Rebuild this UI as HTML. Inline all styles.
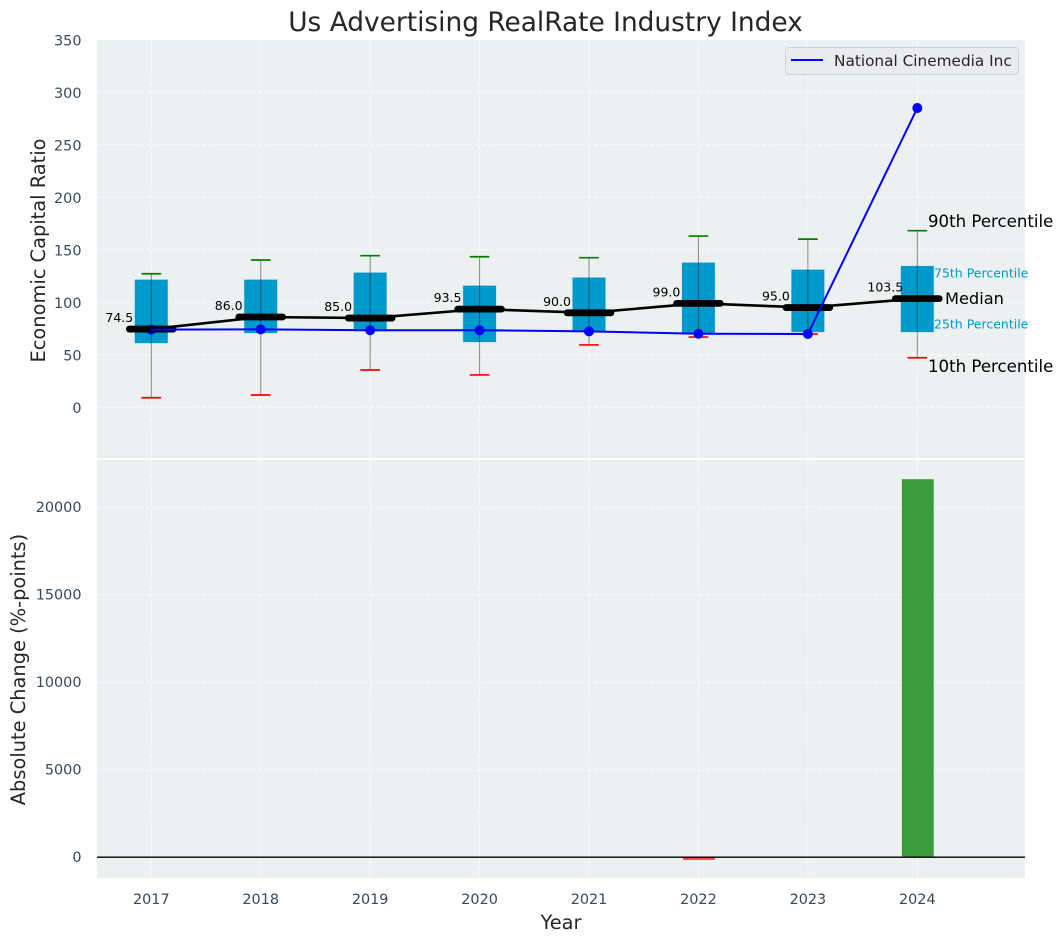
<!DOCTYPE html>
<html lang="en">
<head>
<meta charset="utf-8">
<title>Us Advertising RealRate Industry Index</title>
<style>
html,body{margin:0;padding:0;background:#fff;}
#chart{display:block;position:absolute;left:0;top:0;}
text{font-family:"DejaVu Sans","Liberation Sans",sans-serif;}
</style>
</head>
<body>
<svg id="chart" width="1063" height="942" viewBox="0 0 1063 942" xmlns="http://www.w3.org/2000/svg">
  <rect x="97" y="40" width="928" height="418" fill="#ecf0f1"/>
  <rect x="97" y="460" width="928" height="418" fill="#ecf0f1"/>
  <g id="grid"></g>
  <g id="boxes"></g>
  <g id="bars"></g>
  <g id="lines"></g>
  <g id="ticks" font-size="14.4" fill="#34495e"></g>
  <g id="values" font-size="12.5" fill="#000" text-anchor="middle"></g>

  <text x="545.5" y="31" font-size="26.4" fill="#262626" text-anchor="middle">Us Advertising RealRate Industry Index</text>
  <text transform="translate(45,250.5) rotate(-90)" font-size="19.4" fill="#262626" text-anchor="middle">Economic Capital Ratio</text>
  <text transform="translate(25,669.5) rotate(-90)" font-size="19.4" fill="#262626" text-anchor="middle">Absolute Change (%-points)</text>
  <text x="561" y="929" font-size="19.4" fill="#262626" text-anchor="middle">Year</text>

  <text x="928" y="227" font-size="16.6" fill="#000">90th Percentile</text>
  <text x="934" y="277.5" font-size="12.5" fill="#0099cc">75th Percentile</text>
  <text x="945" y="304" font-size="16.2" fill="#000">Median</text>
  <text x="934" y="328.5" font-size="12.5" fill="#0099cc">25th Percentile</text>
  <text x="928" y="372" font-size="16.6" fill="#000">10th Percentile</text>

  <g>
    <rect x="785.5" y="47.5" width="233" height="27" rx="3" fill="#e9ebef" stroke="#cfd2d4" stroke-width="1"/>
    <line x1="791" y1="60" x2="823" y2="60" stroke="#0000ff" stroke-width="2"/>
    <text x="834" y="66" font-size="15.3" fill="#262626">National Cinemedia Inc</text>
  </g>
</svg>
<script>
const years = [2017, 2018, 2019, 2020, 2021, 2022, 2023, 2024];
const p10 = [9.1, 11.7, 35.5, 30.8, 59.4, 66.9, 69.8, 47.2];
const p25 = [61.2, 70.7, 72.6, 62.2, 72.4, 70.4, 71.7, 71.7];
const medians = [74.5, 86, 85, 93.5, 90, 99, 95, 103.5];
const p75 = [121.5, 121.5, 128.2, 115.8, 123.5, 137.7, 131, 134.5];
const p90 = [127.2, 140.3, 144.4, 143.4, 142.5, 163.1, 160.2, 168.2];
const company = [74, 74.2, 73.4, 73.4, 72.3, 70.1, 69.8, 285];
const changes = [0, 0, -10, 0, -15, -150, -10, 21600];
const topTicks = [0, 50, 100, 150, 200, 250, 300, 350];
const bottomTicks = [0, 5000, 10000, 15000, 20000];

const NS = 'http://www.w3.org/2000/svg';
const xScale = v => 151.3 + (v - 2017) * 109.43;
const yTop = v => 407.3 - v * 1.05;
const yBottom = v => 857.2 - v * 0.0175;
const YEAR_BOX = 0.15, YEAR_MED = 0.2, YEAR_CAP = 0.09, YEAR_LABEL = 0.2924;

function make(parent, tag, attrs, text) {
  const el = document.createElementNS(NS, tag);
  for (const k in attrs) el.setAttribute(k, attrs[k]);
  if (text !== undefined) el.textContent = text;
  parent.appendChild(el);
  return el;
}
const grid = document.getElementById('grid');
const boxes = document.getElementById('boxes');
const bars = document.getElementById('bars');
const lines = document.getElementById('lines');
const ticks = document.getElementById('ticks');
const values = document.getElementById('values');
const gridStyle = {stroke: '#ffffff', 'stroke-width': 1, 'stroke-opacity': 0.75, 'stroke-dasharray': '4.5 2.5'};

years.forEach(y => {
  [[40, 458], [460, 878]].forEach(r => {
    const g = make(grid, 'line', Object.assign({x1: xScale(y), x2: xScale(y), y1: r[0], y2: r[1]}, gridStyle));
    
    
  });
  const t = make(ticks, 'text', {x: xScale(y), y: 904, 'text-anchor': 'middle'}, y);
  
  
});
topTicks.forEach(v => {
  const g = make(grid, 'line', Object.assign({x1: 97, x2: 1025, y1: yTop(v), y2: yTop(v)}, gridStyle));
  
  
  const t = make(ticks, 'text', {x: 81.5, y: yTop(v) + 5.5, 'text-anchor': 'end'}, v);
  
  
});
bottomTicks.forEach(v => {
  const g = make(grid, 'line', Object.assign({x1: 97, x2: 1025, y1: yBottom(v), y2: yBottom(v)}, gridStyle));
  
  
  const t = make(ticks, 'text', {x: 81.5, y: yBottom(v) + 5, 'text-anchor': 'end'}, v);
  
  
});

years.forEach((y, i) => {
  const x0 = xScale(y - YEAR_BOX), x1 = xScale(y + YEAR_BOX);
  const box = make(boxes, 'rect', {x: x0, y: yTop(p75[i]), width: x1 - x0, height: yTop(p25[i]) - yTop(p75[i]), fill: '#0099cc', stroke: '#0099cc', 'stroke-opacity': 0.2, 'stroke-width': 1});
  
  
  const w = make(boxes, 'line', {x1: xScale(y), x2: xScale(y), y1: yTop(p10[i]), y2: yTop(p90[i]), stroke: '#000', 'stroke-opacity': 0.45, 'stroke-width': 1});
  
  
  const c90 = make(boxes, 'line', {x1: xScale(y - YEAR_CAP), x2: xScale(y + YEAR_CAP), y1: yTop(p90[i]), y2: yTop(p90[i]), stroke: '#008000', 'stroke-width': 1.7});
  
  
  const c10 = make(boxes, 'line', {x1: xScale(y - YEAR_CAP), x2: xScale(y + YEAR_CAP), y1: yTop(p10[i]), y2: yTop(p10[i]), stroke: '#ff0000', 'stroke-width': 1.7});
  
  

  const base = yBottom(0), top = yBottom(changes[i]);
  const bar = make(bars, 'rect', {x: x0 + 1, y: Math.min(base, top), width: x1 - x0 - 1, height: Math.abs(top - base), fill: changes[i] >= 0 ? '#008000' : '#ff0000', 'fill-opacity': 0.75});
  
  

  const label = make(values, 'text', {x: xScale(y - YEAR_LABEL), y: yTop(medians[i]) - 7}, medians[i].toFixed(1));
  
  
});

const zero = make(bars, 'line', {x1: 97, x2: 1025, y1: yBottom(0), y2: yBottom(0), stroke: '#000', 'stroke-width': 1.4});



years.forEach((y, i) => {
  const dot = make(lines, 'circle', {cx: xScale(y), cy: yTop(company[i]), r: 5, fill: '#0000ff'});
  
  
});
years.forEach((y, i) => {
  const m = make(lines, 'line', {x1: xScale(y - YEAR_MED), x2: xScale(y + YEAR_MED), y1: yTop(medians[i]), y2: yTop(medians[i]), stroke: '#000', 'stroke-width': 6.8, 'stroke-linecap': 'round'});
  
  
});
const medianLine = make(lines, 'polyline', {points: years.map((y, i) => xScale(y) + ',' + yTop(medians[i])).join(' '), fill: 'none', stroke: '#000', 'stroke-width': 2.6});


const companyLine = make(lines, 'polyline', {points: years.map((y, i) => xScale(y) + ',' + yTop(company[i])).join(' '), fill: 'none', stroke: '#0000ff', 'stroke-width': 2});


</script>
</body>
</html>
